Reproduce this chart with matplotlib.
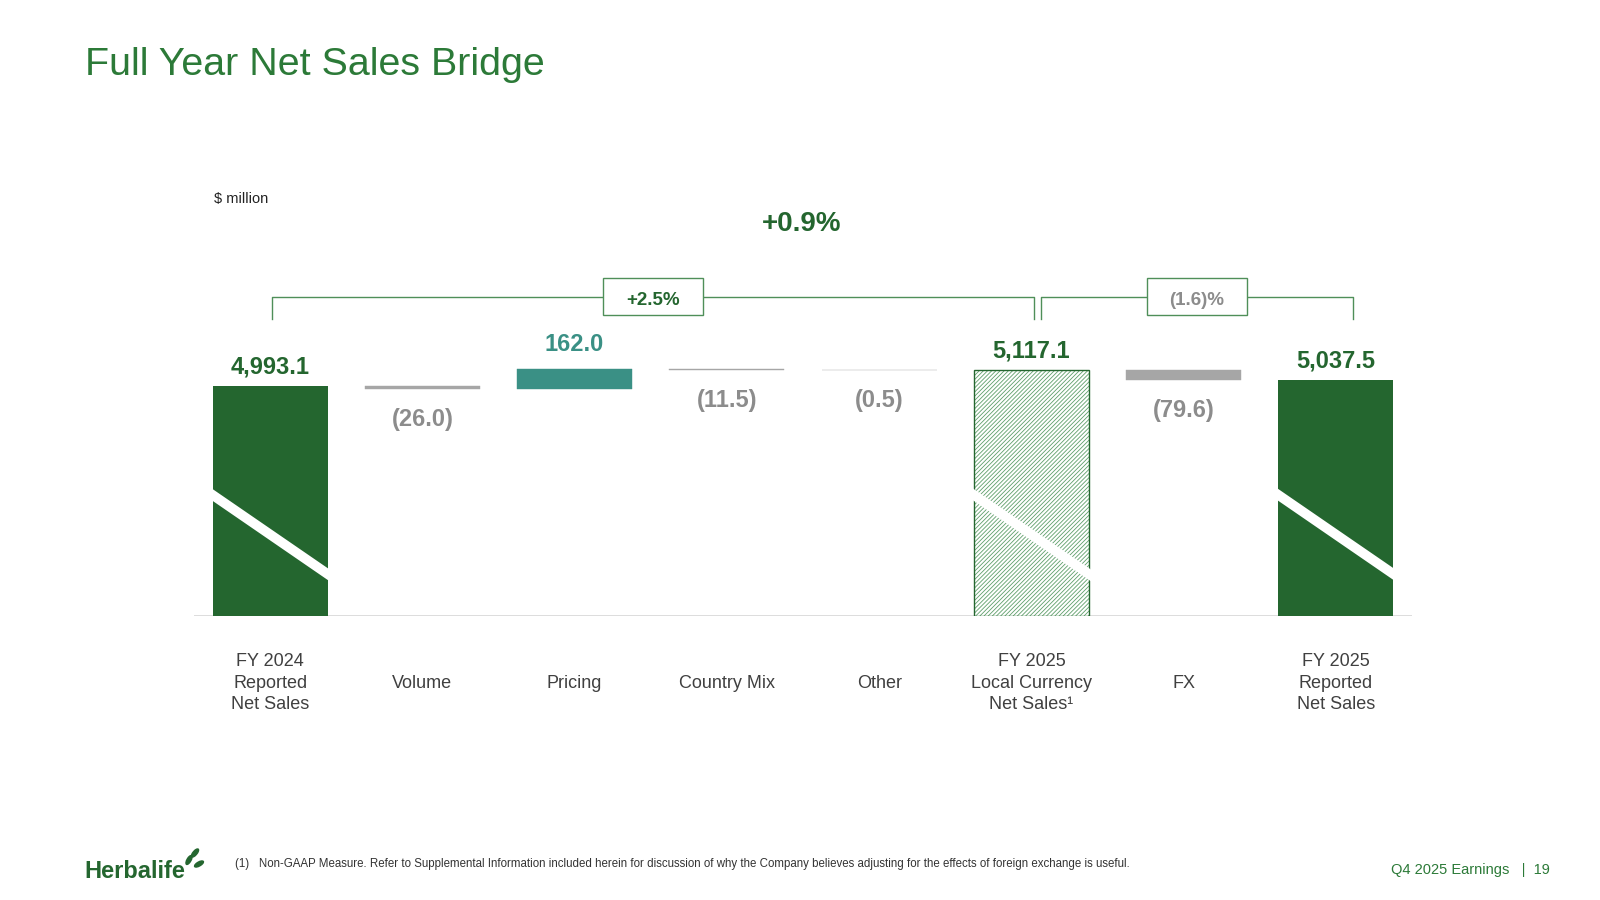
import numpy as np
import matplotlib.pyplot as plt
from matplotlib.patches import Rectangle, Ellipse

plt.rcParams['font.family'] = ['Liberation Sans', 'DejaVu Sans']
plt.rcParams['hatch.linewidth'] = 0.6

# data ($ million)
categories = ['FY 2024\nReported\nNet Sales', 'Volume', 'Pricing', 'Country Mix', 'Other',
              'FY 2025\nLocal Currency\nNet Sales\u00b9', 'FX', 'FY 2025\nReported\nNet Sales']
kinds = ['total', 'step', 'step', 'step', 'step', 'total', 'step', 'total']
values = [4993.1, -26.0, 162.0, -11.5, -0.5, 5117.1, -79.6, 5037.5]
value_labels = ['4,993.1', '(26.0)', '162.0', '(11.5)', '(0.5)', '5,117.1', '(79.6)', '5,037.5']
bracket_labels = ['+2.5%', '(1.6)%']
total_change = '+0.9%'

DARK = '#24662F'
TEAL = '#3A9085'
GRAY = '#A6A6A6'
LBL_GRAY = '#8C8C8C'
LINE_GREEN = '#4F8F59'
TITLE_GREEN = '#2C7A38'

fig = plt.figure(figsize=(16, 9), dpi=100)
ax = fig.add_axes([194/1600, 1-616/900, (1412-194)/1600, 466/900])
x = np.arange(len(categories))
floor = 3150  # truncated axis
ax.set_xlim(-0.5, 7.5)
ax.set_ylim(floor, 6880)
ax.axis('off')
w = 0.755

# waterfall geometry
bottoms, heights = [], []
running = 0
for kind, v in zip(kinds, values):
    if kind == 'total':
        bottoms.append(floor)
        heights.append(v - floor)
        running = v
    else:
        bottoms.append(running + min(v, 0))
        heights.append(abs(v))
        running += v

for i in range(len(x)):
    if kinds[i] == 'total':
        if i == 5:
            # local currency total: light hatch + dark outline
            ax.bar(x[i], heights[i], bottom=bottoms[i], width=w, facecolor='white',
                   edgecolor='#5E9E6A', hatch='////////', linewidth=0, zorder=2)
            ax.bar(x[i], heights[i], bottom=bottoms[i], width=w, fill=False,
                   edgecolor=DARK, linewidth=1.0, zorder=2)
        else:
            ax.bar(x[i], heights[i], bottom=bottoms[i], width=w, color=DARK, zorder=2)
        # axis break slash
        ax.plot([x[i] - w/2 - 0.03, x[i] + w/2 + 0.03], [0.2664, 0.0834], color='white',
                lw=7, solid_capstyle='butt', transform=ax.get_xaxis_transform(), zorder=3)
        ax.annotate(value_labels[i], (x[i], bottoms[i] + heights[i]), xytext=(0, 9),
                    textcoords='offset points', ha='center', va='baseline',
                    fontsize=17, fontweight='bold', color=DARK)
    else:
        col = TEAL if values[i] > 0 else GRAY
        ax.bar(x[i], heights[i], bottom=bottoms[i], width=w, color=col,
               edgecolor=col, linewidth=0.3, zorder=2)
        if values[i] > 0:
            ax.annotate(value_labels[i], (x[i], bottoms[i] + heights[i]), xytext=(0, 13),
                        textcoords='offset points', ha='center', va='baseline',
                        fontsize=17, fontweight='bold', color=TEAL)
        else:
            ax.annotate(value_labels[i], (x[i], bottoms[i]), xytext=(0, -13.5),
                        textcoords='offset points', ha='center', va='top',
                        fontsize=17, fontweight='bold', color=LBL_GRAY)

ax.axhline(floor, color='#D9D9D9', lw=2, zorder=1)

for i in range(len(x)):
    ax.text(x[i], -0.1438, categories[i], transform=ax.get_xaxis_transform(),
            ha='center', va='center', fontsize=13, linespacing=1.36, color='#404040')

# brackets
tr = ax.get_xaxis_transform()
spans = [(x[0] + 0.01, x[5] + 0.02), (x[5] + 0.065, x[7] + 0.11)]
for (a, b), lab in zip(spans, bracket_labels):
    ax.plot([a, a, b, b], [0.6365, 0.6845, 0.6845, 0.6365], color=LINE_GREEN, lw=1,
            transform=tr, zorder=1, clip_on=False)
    mid = (a + b) / 2
    ax.add_patch(Rectangle((mid - 0.33, 0.6457), 0.66, 0.0788, transform=tr,
                           facecolor='white', edgecolor=LINE_GREEN, lw=1, zorder=2))
    ax.text(mid, 0.678, lab, transform=tr, ha='center', va='center', fontsize=13.5,
            fontweight='bold', color=DARK if lab.startswith('+') else LBL_GRAY, zorder=3)

fig.text(802/1600, 1-224/900, total_change, ha='center', va='center', fontsize=20,
         fontweight='bold', color=DARK)
fig.text(214/1600, 1-199/900, '$ million', ha='left', va='center', fontsize=10.5, color='#222222')

fig.text(85/1600, 1-65/900, 'Full Year Net Sales Bridge', ha='left', va='center',
         fontsize=28.4, color=TITLE_GREEN)

# footer
fig.text(84/1600, 1-871/900, 'Herbalife', ha='left', va='center', fontsize=17,
         fontweight='bold', color=DARK)
# little sprout next to the logo (display pixel coords)
for cx, cy, ang in [(189, 900-860, -30), (195, 900-853, -40), (199, 900-864, -60)]:
    fig.patches.append(Ellipse((cx, cy), 4, 10, angle=ang, transform=None, color=DARK))
fig.text(235/1600, 1-864/900, '(1)   Non-GAAP Measure. Refer to Supplemental Information included herein '
         'for discussion of why the Company believes adjusting for the effects of foreign exchange is useful.',
         ha='left', va='center', fontsize=8.3, color='#333333')
fig.text(1550/1600, 1-870/900, 'Q4 2025 Earnings   |  19', ha='right', va='center',
         fontsize=10.5, color=TITLE_GREEN)

fig.savefig('out.png', dpi=100)
